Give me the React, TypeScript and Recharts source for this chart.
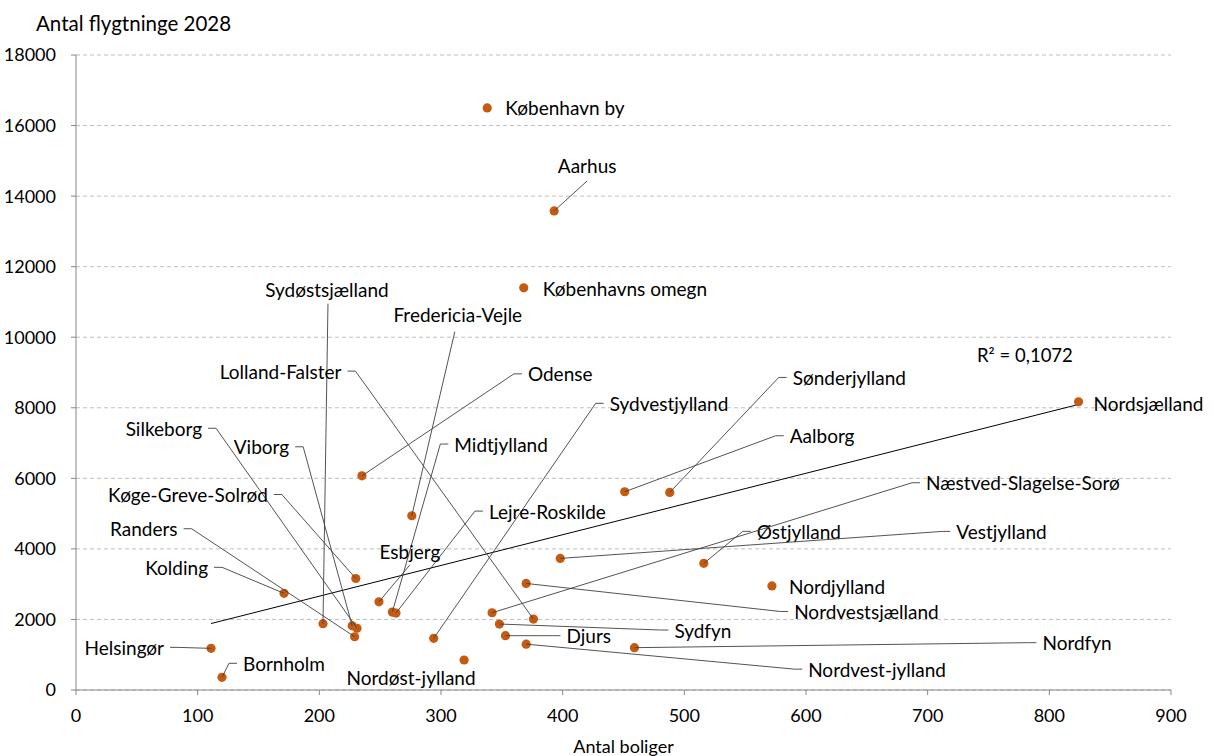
import { ScatterChart, Scatter, XAxis, YAxis, CartesianGrid, ReferenceLine } from "recharts"

const regions = [
  "København by",
  "Aarhus",
  "Københavns omegn",
  "Nordsjælland",
  "Odense",
  "Aalborg",
  "Sønderjylland",
  "Sydvestjylland",
  "Fredericia-Vejle",
  "Midtjylland",
  "Lejre-Roskilde",
  "Esbjerg",
  "Sydøstsjælland",
  "Lolland-Falster",
  "Silkeborg",
  "Viborg",
  "Køge-Greve-Solrød",
  "Randers",
  "Kolding",
  "Helsingør",
  "Bornholm",
  "Nordøst-jylland",
  "Djurs",
  "Sydfyn",
  "Nordvest-jylland",
  "Nordfyn",
  "Nordvestsjælland",
  "Nordjylland",
  "Østjylland",
  "Vestjylland",
  "Næstved-Slagelse-Sorø",
]

// Antal boliger (x)
const boliger = [
  338, 393, 368, 824, 235, 451, 488, 294, 276, 260, 263, 249, 203, 376, 231, 227,
  230, 229, 171, 111, 120, 319, 353, 348, 370, 459, 370, 572, 516, 398, 342,
]

// Antal flygtninge 2028 (y)
const flygtninge = [
  16500, 13580, 11400, 8170, 6070, 5620, 5600, 1465, 4940, 2210, 2180, 2500, 1880,
  2010, 1750, 1820, 3160, 1510, 2740, 1180, 360, 850, 1540, 1870, 1300, 1200, 3020,
  2950, 3590, 3730, 2190,
]

const xTicks = [0, 100, 200, 300, 400, 500, 600, 700, 800, 900]
const yTicks = [0, 2000, 4000, 6000, 8000, 10000, 12000, 14000, 16000, 18000]

const yTitle = "Antal flygtninge 2028"
const xTitle = "Antal boliger"
const r2Text = "R² = 0,1072"

const data = regions.map((name, i) => ({ name, x: boliger[i], y: flygtninge[i] }))

// linear trendline (least squares)
const n = boliger.length
const mx = boliger.reduce((a, b) => a + b, 0) / n
const my = flygtninge.reduce((a, b) => a + b, 0) / n
let sxy = 0
let sxx = 0
boliger.forEach((x, i) => {
  sxy += (x - mx) * (flygtninge[i] - my)
  sxx += (x - mx) * (x - mx)
})
const slope = sxy / sxx
const intercept = my - slope * mx
const minX = Math.min(...boliger)
const maxX = Math.max(...boliger)

// label placement, px offsets from the dot
type Lay = { side: "left" | "right" | "mid"; tx: number; ty: number; leader?: boolean; lx?: number; ly?: number }
const LABELS: Record<string, Lay> = {
  "København by": { side: "right", tx: 18, ty: 0 },
  Aarhus: { side: "mid", tx: 33, ty: -45, lx: 33, ly: -30 },
  "Københavns omegn": { side: "right", tx: 19, ty: 1 },
  Nordsjælland: { side: "right", tx: 15, ty: 2 },
  Odense: { side: "right", tx: 166, ty: -102, leader: true },
  Aalborg: { side: "right", tx: 165, ty: -56, leader: true },
  Sønderjylland: { side: "right", tx: 123, ty: -115, leader: true },
  Sydvestjylland: { side: "right", tx: 176, ty: -235, leader: true },
  "Fredericia-Vejle": { side: "mid", tx: 46, ty: -201, lx: 43, ly: -184 },
  Midtjylland: { side: "right", tx: 62, ty: -168, leader: true },
  "Lejre-Roskilde": { side: "right", tx: 93, ty: -102, leader: true },
  Esbjerg: { side: "mid", tx: 31, ty: -50, lx: 31, ly: -37 },
  Sydøstsjælland: { side: "mid", tx: 4, ty: -334, lx: 5, ly: -320 },
  "Lolland-Falster": { side: "left", tx: -192, ty: -248, leader: true },
  Silkeborg: { side: "left", tx: -155, ty: -200, leader: true },
  Viborg: { side: "left", tx: -63, ty: -179, leader: true },
  "Køge-Greve-Solrød": { side: "left", tx: -88, ty: -84, leader: true },
  Randers: { side: "left", tx: -177, ty: -108, leader: true },
  Kolding: { side: "left", tx: -76, ty: -26, leader: true },
  Helsingør: { side: "left", tx: -47, ty: -1, leader: true },
  Bornholm: { side: "right", tx: 21, ty: -14, leader: true },
  "Nordøst-jylland": { side: "mid", tx: -53, ty: 17 },
  Djurs: { side: "right", tx: 61, ty: 0, leader: true },
  Sydfyn: { side: "right", tx: 175, ty: 6, leader: true },
  "Nordvest-jylland": { side: "right", tx: 282, ty: 25, leader: true },
  Nordfyn: { side: "right", tx: 408, ty: -5, leader: true },
  Nordvestsjælland: { side: "right", tx: 268, ty: 28, leader: true },
  Nordjylland: { side: "right", tx: 17, ty: 1 },
  Østjylland: { side: "right", tx: 53, ty: -32, leader: true },
  Vestjylland: { side: "right", tx: 396, ty: -27, leader: true },
  "Næstved-Slagelse-Sorø": { side: "right", tx: 434, ty: -130, leader: true },
}

const FONT = "Lato, 'Open Sans', sans-serif"
const DOT = "#C55A11"
const LEADER = "#3f3f3f"

const Dot = (props: any) => {
  const { cx, cy } = props
  if (cx == null || cy == null) return null
  return <circle cx={cx} cy={cy} r={4.6} fill={DOT} />
}

const PointLabel = (props: any) => {
  const { cx, cy, payload } = props
  if (cx == null || cy == null || !payload) return null
  const l = LABELS[payload.name]
  if (!l) return null
  const x = cx + l.tx
  const y = cy + l.ty
  let line = null
  if (l.side === "mid" && l.lx != null && l.ly != null) {
    line = <line x1={cx} y1={cy} x2={cx + l.lx} y2={cy + l.ly} stroke={LEADER} strokeWidth={0.9} />
  } else if (l.leader) {
    const dir = l.side === "right" ? -1 : 1
    const ex = x + dir * 14
    const sx = x + dir * 6
    line = (
      <polyline
        points={`${cx},${cy} ${ex},${y} ${sx},${y}`}
        fill="none"
        stroke={LEADER}
        strokeWidth={0.9}
      />
    )
  }
  const anchor = l.side === "right" ? "start" : l.side === "left" ? "end" : "middle"
  return (
    <g>
      {line}
      <text x={x} y={y} textAnchor={anchor} dominantBaseline="central" fontSize={19} fill="#000">
        {payload.name}
      </text>
    </g>
  )
}

export default function App() {
  return (
    <div style={{ position: "absolute", left: 0, top: 0, width: 1214, height: 756, fontFamily: FONT, background: "#fff" }}>
      <div style={{ position: "absolute", left: 36, top: 9, fontSize: 20.5, lineHeight: "28px", color: "#000" }}>{yTitle}</div>
      <div style={{ position: "absolute", left: 977, top: 342, fontSize: 18.5, lineHeight: "26px", color: "#000" }}>{r2Text}</div>
      <ScatterChart width={1214} height={756} margin={{ top: 55, right: 43, bottom: 0, left: 16 }}>
        <CartesianGrid vertical={false} stroke="#BFBFBF" strokeDasharray="4 3" />
        <XAxis
          type="number"
          dataKey="x"
          domain={[0, 900]}
          ticks={xTicks}
          height={66}
          tickSize={5}
          tickMargin={14}
          stroke="#868686"
          tick={{ fill: "#000", fontSize: 18 }}
          label={{ value: xTitle, position: "insideBottom", offset: 3, fill: "#000", fontSize: 18 }}
        />
        <YAxis
          type="number"
          dataKey="y"
          domain={[0, 18000]}
          ticks={yTicks}
          width={60}
          tickSize={5}
          tickMargin={15}
          stroke="#868686"
          tick={{ fill: "#000", fontSize: 18 }}
        />
        <ReferenceLine
          segment={[
            { x: minX, y: intercept + slope * minX },
            { x: maxX, y: intercept + slope * maxX },
          ]}
          stroke="#000"
          strokeWidth={1}
        />
        <Scatter data={data} shape={Dot} isAnimationActive={false} />
        <Scatter data={data} shape={PointLabel} isAnimationActive={false} />
      </ScatterChart>
    </div>
  )
}
